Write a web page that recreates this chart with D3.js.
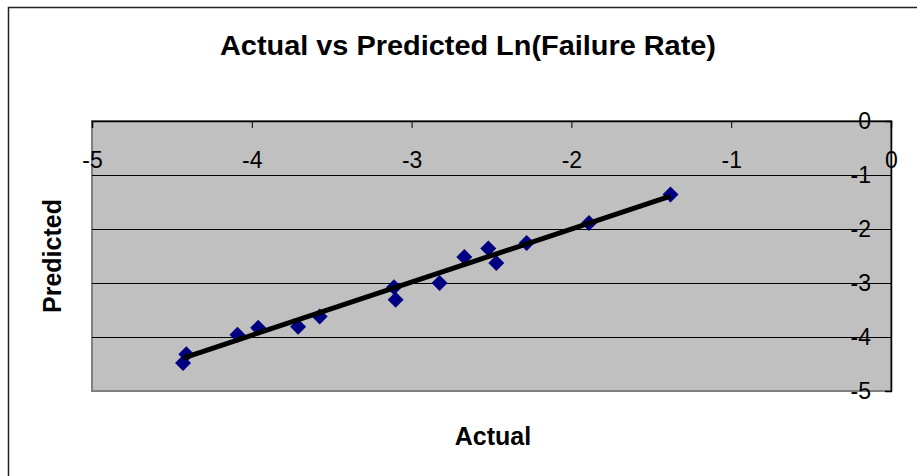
<!DOCTYPE html>
<html>
<head>
<meta charset="utf-8">
<script src="https://cdn.jsdelivr.net/npm/d3@7"></script>
<style>
  html, body { margin: 0; padding: 0; background: #fff; }
  svg { display: block; }
  text { font-family: "Liberation Sans", Arial, sans-serif; }
</style>
</head>
<body>
<svg id="chart" width="917" height="476"></svg>
<script>
// ---- data ----
const actual    = [-4.43, -4.41, -4.09, -3.96, -3.71, -3.575, -3.11, -3.10, -2.825, -2.67, -2.52, -2.47, -2.28, -1.89, -1.38];
const predicted = [-4.48, -4.32, -3.96, -3.83, -3.81, -3.62, -3.08, -3.31, -3.00, -2.52, -2.36, -2.63, -2.26, -1.89, -1.36];
const trendX = [-4.43, -1.38];
const trendY = [-4.39, -1.39];
const xTicks = [-5, -4, -3, -2, -1, 0];
const yTicks = [0, -1, -2, -3, -4, -5];
const titleText = "Actual vs Predicted Ln(Failure Rate)";
const xTitle = "Actual";
const yTitle = "Predicted";

// ---- layout ----
const svg = d3.select("#chart");
const plot = { left: 92, right: 891, top: 121, bottom: 391 };
const FONT = "Liberation Sans, Arial, sans-serif";
const fmt = d => String(d).replace("\u2212", "-");

const x = d3.scaleLinear().domain([-5, 0]).range([plot.left, plot.right]);
const y = d3.scaleLinear().domain([-5, 0]).range([plot.bottom, plot.top]);

// outer chart border
svg.append("rect")
  .attr("x", 8.5).attr("y", 7.5).attr("width", 917).attr("height", 476)
  .attr("fill", "#fff").attr("stroke", "#222").attr("stroke-width", 1.5);

// plot area
svg.append("rect")
  .attr("x", plot.left).attr("y", plot.top)
  .attr("width", plot.right - plot.left).attr("height", plot.bottom - plot.top)
  .attr("fill", "#c0c0c0").attr("stroke", "#808080").attr("stroke-width", 2);

// gridlines
svg.append("g").selectAll("line")
  .data(yTicks.filter(d => d !== 0 && d !== -5))
  .join("line")
  .attr("x1", plot.left).attr("x2", plot.right)
  .attr("y1", d => Math.round(y(d)) + 0.5).attr("y2", d => Math.round(y(d)) + 0.5)
  .attr("stroke", "#000").attr("stroke-width", 1);

// x axis (at y = 0, top), labels offset below
const xAxis = d3.axisBottom(x).tickValues(xTicks).tickSize(7).tickPadding(24).tickFormat(fmt);
const gx = svg.append("g").attr("transform", `translate(0,${y(0)})`).call(xAxis);
gx.select(".domain").attr("stroke", "#000").attr("stroke-width", 1.5);
gx.selectAll(".tick line").attr("stroke", "#000");
gx.selectAll(".tick text").attr("font-size", 23).attr("fill", "#000").attr("font-family", FONT);

// y axis (at x = 0, right), labels left of axis
const yAxis = d3.axisLeft(y).tickValues(yTicks).tickSize(6).tickPadding(14).tickFormat(fmt);
const gy = svg.append("g").attr("transform", `translate(${x(0)},0)`).call(yAxis);
gy.select(".domain").attr("stroke", "#000").attr("stroke-width", 1.5);
gy.selectAll(".tick line").attr("stroke", "#000");
gy.selectAll(".tick text").attr("font-size", 23).attr("fill", "#000").attr("font-family", FONT);

// markers (diamonds)
const r = 8;
svg.append("g").selectAll("path")
  .data(actual.map((v, i) => [v, predicted[i]]))
  .join("path")
  .attr("d", d => {
    const cx = x(d[0]), cy = y(d[1]);
    return `M${cx},${cy - r}L${cx + r},${cy}L${cx},${cy + r}L${cx - r},${cy}Z`;
  })
  .attr("fill", "#000080");

// trend line (drawn over markers)
const line = d3.line().x(d => x(d[0])).y(d => y(d[1]));
svg.append("path")
  .datum(trendX.map((v, i) => [v, trendY[i]]))
  .attr("d", line)
  .attr("fill", "none").attr("stroke", "#000").attr("stroke-width", 5);

// title
svg.append("text")
  .attr("x", 468).attr("y", 55)
  .attr("text-anchor", "middle")
  .attr("font-size", 27).attr("font-weight", "bold")
  .attr("textLength", 496).attr("lengthAdjust", "spacingAndGlyphs")
  .text(titleText);

// axis titles
svg.append("text")
  .attr("x", 493).attr("y", 445)
  .attr("text-anchor", "middle")
  .attr("font-size", 25).attr("font-weight", "bold")
  .text(xTitle);

svg.append("text")
  .attr("transform", "translate(61,256) rotate(-90)")
  .attr("text-anchor", "middle")
  .attr("font-size", 25).attr("font-weight", "bold")
  .text(yTitle);
</script>
</body>
</html>
